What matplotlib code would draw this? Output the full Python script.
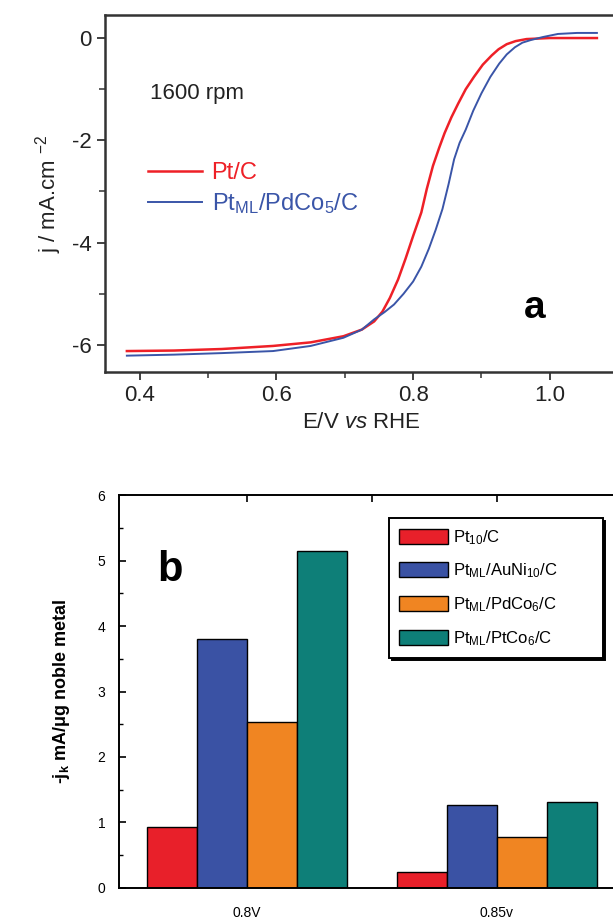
import matplotlib
matplotlib.use("Agg")
import matplotlib.pyplot as plt
from matplotlib.ticker import MultipleLocator

plt.rcParams['font.family'] = ['Liberation Sans', 'DejaVu Sans']
plt.rcParams['mathtext.fontset'] = 'custom'
plt.rcParams['mathtext.rm'] = 'Liberation Sans'
plt.rcParams['mathtext.it'] = 'Liberation Sans:italic'
plt.rcParams['mathtext.bf'] = 'Liberation Sans:bold'

# panel a: polarization curves
e_pt = [0.381, 0.45, 0.52, 0.595, 0.65, 0.698, 0.725, 0.743, 0.755, 0.766, 0.778,
        0.789, 0.80, 0.812, 0.82, 0.829, 0.838, 0.846, 0.856, 0.866, 0.877, 0.889,
        0.902, 0.915, 0.925, 0.937, 0.95, 0.966, 1.0, 1.04, 1.069]
j_pt = [-6.12, -6.11, -6.08, -6.02, -5.95, -5.83, -5.70, -5.54, -5.35, -5.08, -4.72,
        -4.31, -3.87, -3.41, -2.95, -2.50, -2.15, -1.86, -1.55, -1.28, -1.00, -0.76,
        -0.52, -0.34, -0.22, -0.12, -0.06, -0.02, 0.0, 0.0, 0.0]
e_ml = [0.381, 0.45, 0.52, 0.595, 0.65, 0.698, 0.725, 0.743, 0.758, 0.772, 0.786,
        0.80, 0.812, 0.823, 0.833, 0.843, 0.852, 0.860, 0.868, 0.877, 0.888, 0.900,
        0.913, 0.926, 0.937, 0.949, 0.960, 0.972, 0.99, 1.012, 1.04, 1.069]
j_ml = [-6.21, -6.19, -6.16, -6.12, -6.02, -5.86, -5.70, -5.50, -5.36, -5.21, -5.00,
        -4.76, -4.47, -4.12, -3.75, -3.34, -2.85, -2.37, -2.05, -1.79, -1.42, -1.08,
        -0.76, -0.50, -0.32, -0.18, -0.09, -0.04, 0.02, 0.08, 0.10, 0.10]

# panel b: mass activity bars
groups = ['0.8V', '0.85v']
catalysts = [r'Pt$_{10}$/C', r'Pt$_{\mathrm{ML}}$/AuNi$_{10}$/C',
             r'Pt$_{\mathrm{ML}}$/PdCo$_{6}$/C', r'Pt$_{\mathrm{ML}}$/PtCo$_{6}$/C']
activity = [[0.93, 0.24],
            [3.80, 1.26],
            [2.53, 0.78],
            [5.14, 1.32]]
bar_colors = ['#e8202a', '#3a52a4', '#f08522', '#0e7f78']

fig = plt.figure(figsize=(6.13, 9.22), dpi=100)

# ---- panel a ----
ax1 = fig.add_axes([0.1713, 0.5965, 0.837, 0.3872])
ax1.plot(e_pt, j_pt, color='#ee2027', lw=1.8, label='Pt/C')
ax1.plot(e_ml, j_ml, color='#3a55a8', lw=1.4, label=r'Pt$_{\mathrm{ML}}$/PdCo$_5$/C')
ax1.set_xlim(0.349, 1.1)
ax1.set_ylim(-6.53, 0.45)
ax1.xaxis.set_major_locator(MultipleLocator(0.2))
ax1.xaxis.set_minor_locator(MultipleLocator(0.1))
ax1.yaxis.set_major_locator(MultipleLocator(2))
ax1.yaxis.set_minor_locator(MultipleLocator(1))
ax1.xaxis.set_major_formatter(lambda v, p: f'{v:.1f}')
ax1.yaxis.set_major_formatter(lambda v, p: f'{v:.0f}')
ax1.tick_params(which='major', direction='out', length=6, width=1.3, labelsize=16,
                colors='#333333', labelcolor='#222222')
ax1.tick_params(which='minor', direction='out', length=4, width=1.1, colors='#333333')
for s in ax1.spines.values():
    s.set_linewidth(1.8)
    s.set_color('#333333')
ax1.set_xlabel(r'E/V $\it{vs}$ RHE', fontsize=16, color='#222222', labelpad=4)
ax1.set_ylabel(r'j / mA.cm $^{-2}$', fontsize=16, color='#222222', labelpad=6)
ax1.text(0.088, 0.78, '1600 rpm', transform=ax1.transAxes, fontsize=16,
         color='#222222', va='center')
ax1.text(0.838, 0.18, 'a', transform=ax1.transAxes, fontsize=28, fontweight='bold',
         ha='center', va='center')
ax1.legend(loc='upper left', bbox_to_anchor=(0.065, 0.615), frameon=False,
           fontsize=17, handlelength=2.3, handletextpad=0.4, labelspacing=0.3,
           labelcolor='linecolor', borderaxespad=0)

# ---- panel b ----
ax2 = fig.add_axes([0.1945, 0.0369, 0.824, 0.4262])
centers = [1, 2]
width = 0.2
offsets = [-1.5, -0.5, 0.5, 1.5]
for k in range(len(catalysts)):
    xs = [c + offsets[k] * width for c in centers]
    ax2.bar(xs, activity[k], width=width, color=bar_colors[k], edgecolor='black',
            linewidth=1.0, label=catalysts[k])
ax2.set_xlim(0.49, 2.51)
ax2.set_ylim(0, 6)
ax2.set_xticks([1, 1.5, 2, 2.5], labels=[groups[0], '', groups[1], ''])
ax2.yaxis.set_major_locator(MultipleLocator(1))
ax2.yaxis.set_minor_locator(MultipleLocator(0.5))
ax2.tick_params(axis='x', which='both', direction='in', top=True, bottom=False,
                length=5, width=1.2, labelsize=10, pad=13)
ax2.tick_params(axis='y', which='major', direction='in', length=5, width=1.2,
                labelsize=10, pad=10)
ax2.tick_params(axis='y', which='minor', direction='in', length=3, width=1.0)
for s in ax2.spines.values():
    s.set_linewidth(1.4)
ax2.set_ylabel(r'-j$_\mathbf{k}$ mA/μg noble metal', fontsize=13, fontweight='bold',
               labelpad=18)
ax2.text(0.10, 0.81, 'b', transform=ax2.transAxes, fontsize=30, fontweight='bold',
         ha='center', va='center')
leg = ax2.legend(loc='upper left', bbox_to_anchor=(0.535, 0.56, 0.422, 0.382),
                 mode='expand', fontsize=12,
                 handlelength=2.9, handleheight=1.0, handletextpad=0.3,
                 labelspacing=0.9, borderaxespad=0, borderpad=0.6,
                 fancybox=False, edgecolor='black', framealpha=1,
                 shadow={'facecolor': 'black', 'edgecolor': 'black', 'alpha': 1})
leg.get_frame().set_linewidth(1.4)

fig.savefig('out.png', dpi=100)
